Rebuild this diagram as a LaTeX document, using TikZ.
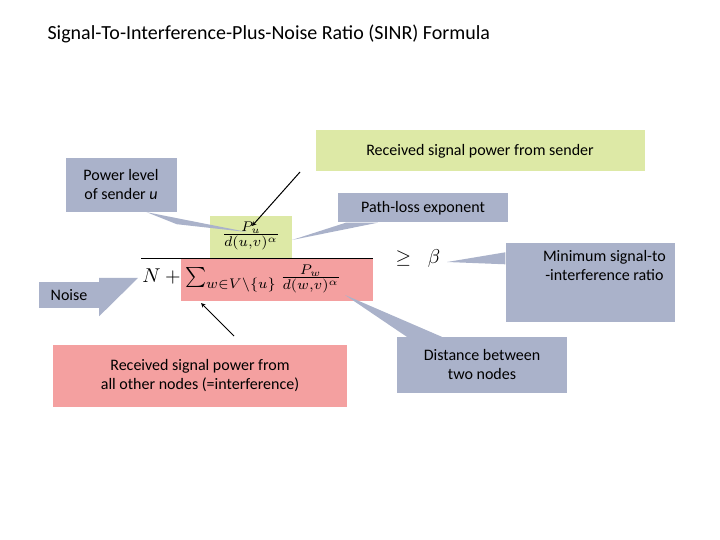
\documentclass[tikz,border=0pt]{standalone}
\usepackage{fontspec}
\setmainfont{Carlito}
\usepackage{amsmath}
\begin{document}
\begin{tikzpicture}[x=1pt,y=-1pt,
  lbl/.style={font=\fontsize{16}{19}\selectfont,inner sep=0pt,align=center},
  fm/.style={inner sep=0pt,scale=2},
  blu/.style={fill=blueg},
]
\definecolor{blueg}{RGB}{170,178,202}
\definecolor{greenb}{RGB}{221,233,166}
\definecolor{redb}{RGB}{244,160,160}
\useasboundingbox (0,0) rectangle (720,540);
\node[anchor=west,font=\fontsize{20}{24}\selectfont] (title) at (44,34) {Signal-To-Interference-Plus-Noise Ratio (SINR) Formula};
% highlights
\fill[greenb] (210,216) rectangle (292,258);
\fill[redb] (181,258) rectangle (373,301);
% boxes
\node[fill=greenb,minimum width=329,minimum height=41,lbl] (snd) at (480,151) {Received signal power from sender};
\node[fill=blueg,minimum width=111,minimum height=54,lbl] (plv) at (121,185) {Power level\\of sender \textit{u}};
\node[fill=blueg,minimum width=170,minimum height=29,lbl] (ple) at (423,208) {Path-loss exponent};
\node[fill=blueg,minimum width=169,minimum height=79,lbl] (min) at (590,282) {};
\node[lbl,anchor=north east] (mint) at (666,250) {Minimum signal-to\\-interference ratio};
\node[fill=blueg,minimum width=60,minimum height=26,lbl] (noi) at (69,295) {Noise};
\node[fill=redb,minimum width=294,minimum height=62,lbl] (oth) at (200,376) {Received signal power from\\all other nodes (=interference)};
\node[fill=blueg,minimum width=170,minimum height=56,lbl] (dst) at (482,365) {Distance between\\two nodes};
% pointers
\coordinate (t1) at (247,232); \coordinate (t2) at (292,240);
\coordinate (t3) at (447,262); \coordinate (t4) at (138,278);
\coordinate (t5) at (345,295);
\fill[blueg] ([xshift=-30]plv.south east) -- (t1) -- ([yshift=-12]plv.south east) -- cycle;
\fill[blueg] ([xshift=8]ple.south west) -- (t2) -- ([xshift=40]ple.south west) -- cycle;
\fill[blueg] ([yshift=-22]min.north west) -- (t3) -- ([yshift=-10]min.north west) -- cycle;
\fill[blueg] ([yshift=4]noi.north east) -- (t4) -- ([yshift=-8]noi.south east) -- cycle;
\fill[blueg] ([xshift=10]dst.north west) -- (t5) -- ([xshift=45]dst.north west) -- cycle;
% formula
\draw[line width=0.8pt] (141,258) -- (373,258);
\node[fm] (num) at (251,236) {$\frac{P_u}{d(u,v)^\alpha}$};
\node[fm,anchor=west] (den) at (142,279) {$N+\sum_{w\in V\setminus\{u\}}\frac{P_w}{d(w,v)^\alpha}$};
\node[fm] (geq) at (418,258) {$\geq\;\;\beta$};
% arrows
\coordinate (a1) at (300,172); \coordinate (a2) at (234,336);
\draw[-stealth,line width=1pt] (a1) -- (252,226);
\draw[-stealth,line width=1pt] (a2) -- (201,303);
\end{tikzpicture}
\end{document}
